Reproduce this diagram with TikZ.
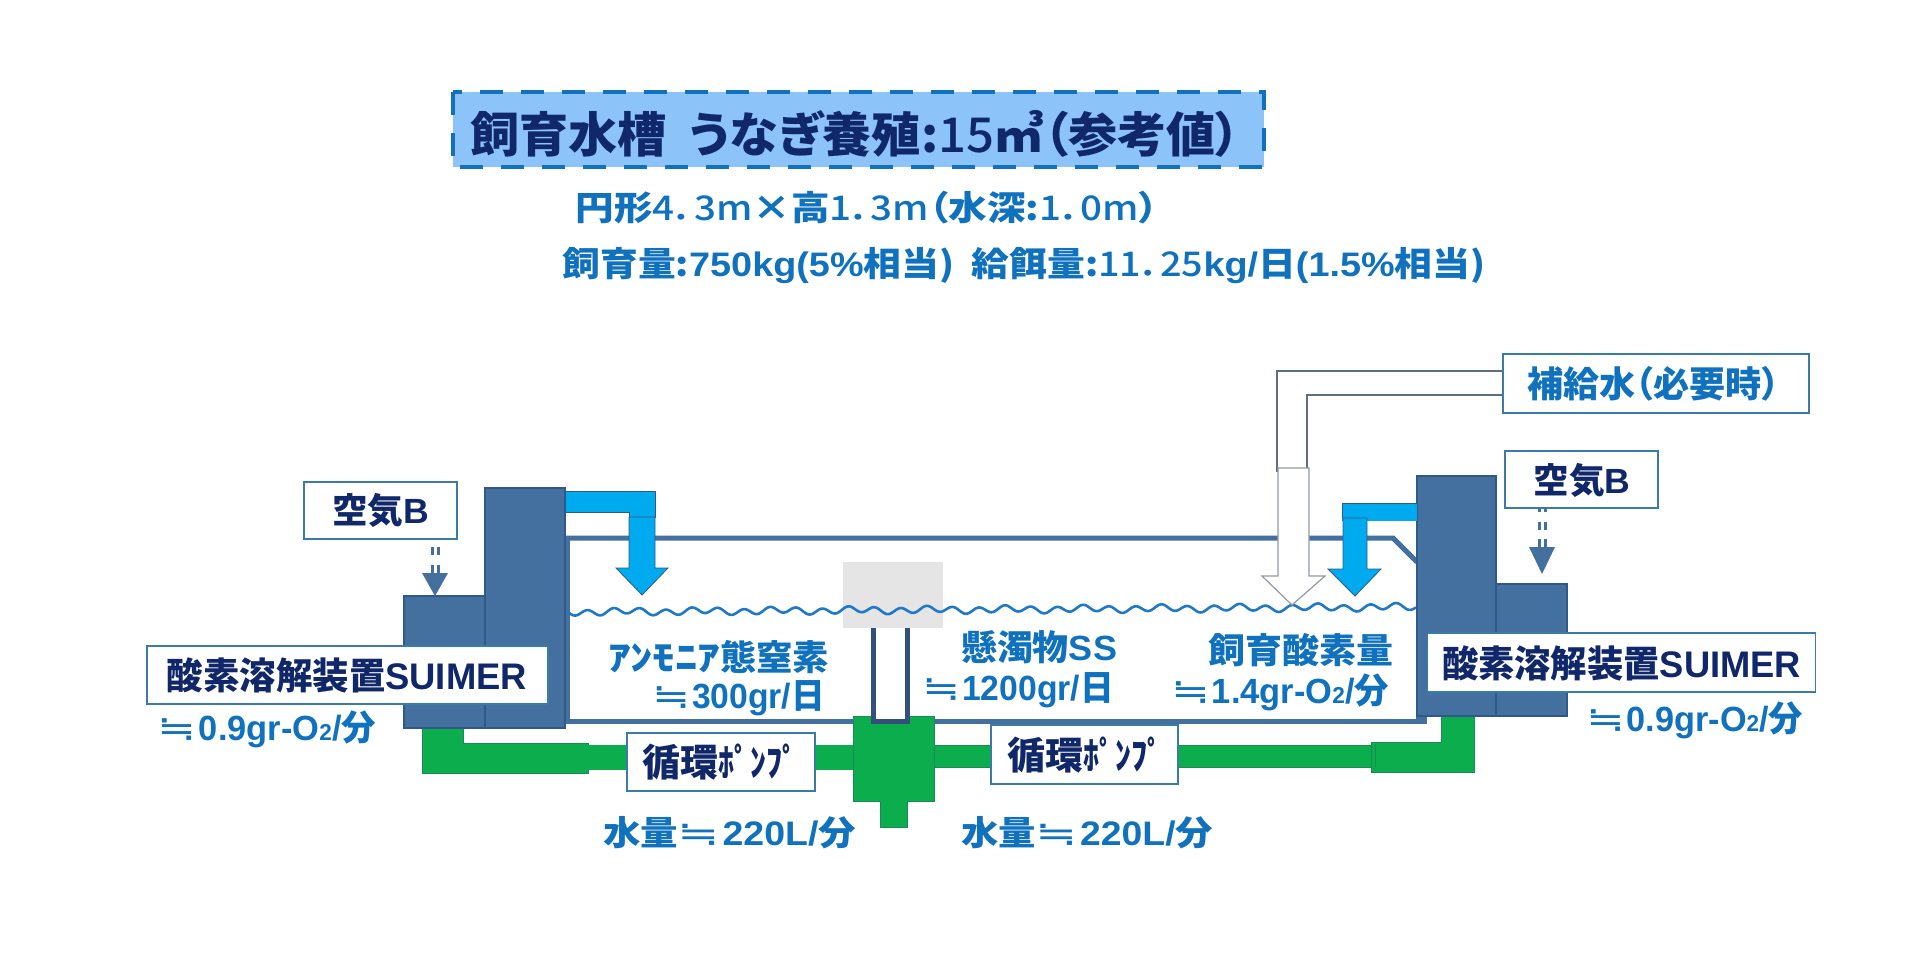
\documentclass[tikz,border=0pt]{standalone}
\usepackage{graphicx}
\usepackage{fontspec}
\setmainfont{Liberation Sans}
\newfontfamily\jp{Noto Sans CJK JP}[RawFeature={+palt}]
\newfontfamily\jpm{Noto Sans CJK JP Medium}[RawFeature={+palt}]
\newfontfamily\lat{Liberation Sans}
\newfontfamily\djv{DejaVu Sans}
\newcommand{\fw}[2]{\resizebox{#1pt}{\height}{#2}}
\newcommand{\oo}{O{\fontsize{23}{23}\selectfont 2}}
\newcommand{\nreq}{\scalebox{1.35}[1]{\djv\mdseries ≒}\hspace{2pt}}
\newcommand{\dg}[1]{{\jpm\mdseries #1}}
\definecolor{navy}{HTML}{10286A}
\definecolor{tblue}{HTML}{1072BE}
\definecolor{block}{HTML}{44709F}
\definecolor{blockedge}{HTML}{2F5A88}
\definecolor{cyanp}{HTML}{00AAEE}
\definecolor{greenp}{HTML}{0BAD4C}
\definecolor{greene}{HTML}{1A8A58}
\definecolor{boxe}{HTML}{3A7CA5}
\definecolor{drain}{HTML}{33507A}
\definecolor{greyp}{HTML}{5F6F7F}
\definecolor{wavec}{HTML}{1F78C8}
\definecolor{titlef}{HTML}{8CC4FA}
\tikzset{
  sz/.style={font=\jp\bfseries\fontsize{#1}{#1}\selectfont,inner sep=0pt,anchor=center},
  navyt/.style={sz=#1,text=navy},
  bluet/.style={sz=#1,text=tblue},
  blk/.style={fill=block,draw=blockedge,line width=1.5pt},
  pipec/.style={fill=cyanp,draw=blockedge,line width=0.8pt},
  pipeg/.style={fill=greenp,draw=greene,line width=1pt},
  wbox/.style={fill=white,draw=boxe,line width=1.5pt,inner sep=0pt},
  tankl/.style={draw=block,line width=5pt},
  airdash/.style={draw=block,line width=3pt},
}
\begin{document}
\begin{tikzpicture}[x=1pt,y=-1pt]
\useasboundingbox (0,0) rectangle (1920,960);
\fill[white] (0,0) rectangle (1920,960);

% title
\fill[titlef] (453,92) rectangle (1264,167);
\draw[draw=tblue,line width=4pt,dash pattern=on 23pt off 18pt] (453,92) rectangle (1264,167);
\node[navyt=48] (title) at (855,134) {\fw{770}{飼育水槽 \ うなぎ養殖:\dg{15}㎥（参考値）}};
\node[bluet=34] (sub1) at (867,208) {\fw{583}{円形\dg{4．3m}×高\dg{1．3m}（水深:\dg{1．0m}）}};
\node[bluet=34] (sub2) at (1024,266) {\fw{923}{飼育量:{\lat\bfseries 750kg(5\%}相当) \ 給餌量:\dg{11．25}{\lat\bfseries kg/}日{\lat\bfseries (1.5\%}相当)}};

% tank
\fill[black!10] (843,562) rectangle (943,628);
\draw[tankl] (565,538) -- (1393,538) -- (1417,562);
\draw[tankl] (567,536) -- (567,721) -- (1427,721);
\draw[wavec,line width=2.6pt] plot[domain=0:848,samples=500] (568+\x,{612-\x*5/848+3*sin(\x*13.8)+1.2*sin(\x*4.7)});

% inner drain
\fill[white] (876,628) rectangle (905,718);

% green piping
\draw[pipeg] (422,728) -- (463,728) -- (463,743) -- (588,743) -- (588,773) -- (422,773) -- cycle;
\fill[greenp] (588,745) rectangle (853,770);
\draw[pipeg] (853,716) -- (934,716) -- (934,801) -- (907,801) -- (907,827) -- (880,827) -- (880,801) -- (853,801) -- cycle;
\fill[pipeg] (934,745) rectangle (1375,767);
\draw[pipeg] (1441,716) -- (1474,716) -- (1474,772) -- (1371,772) -- (1371,742) -- (1441,742) -- cycle;
\draw[greene,line width=.8pt] (1375,744) -- (1375,767);

% drain on top of green
\fill[white] (876,716) rectangle (905,719);
\draw[drain,line width=5pt] (873.5,628) -- (873.5,721) -- (907.5,721) -- (907.5,628);

% left blocks
\draw[blk] (404,596) rectangle (485,728);
\draw[blk] (485,488) rectangle (565,728);
% left blue pipe + arrow
\draw[pipec] (565,491) -- (655,491) -- (655,517) -- (629,517) -- (629,512) -- (565,512) -- cycle;
\draw[pipec] (629,517) -- (655,517) -- (655,568) -- (668,568) -- (642,595) -- (616,568) -- (629,568) -- cycle;
% left air
\draw[airdash] (432,547) -- (432,555) (438,547) -- (438,555) (432,565) -- (432,574) (438,565) -- (438,574);
\fill[block] (422,573) -- (448,573) -- (435,596) -- cycle;

% right blocks
\fill[block] (1416,712) rectangle (1427,724);
\draw[blk] (1496,584) rectangle (1567,716);
\draw[blk] (1417,476) rectangle (1496,716);
% right blue pipe + arrow
\fill[cyanp] (1342,503) rectangle (1417,521);
\draw[blockedge,line width=.8pt] (1417,503) -- (1342,503) -- (1342,518);
\draw[pipec] (1343,518) -- (1367,518) -- (1367,569) -- (1381,569) -- (1355,596) -- (1328,569) -- (1343,569) -- cycle;
% right air
\draw[airdash] (1539.5,508) -- (1539.5,512) (1545,508) -- (1545,512) (1539.5,522) -- (1539.5,530) (1545,522) -- (1545,530) (1539.5,539) -- (1539.5,548) (1545,539) -- (1545,548);
\fill[block] (1529,547) -- (1555,547) -- (1542,574) -- cycle;

% make-up water
\fill[white] (1278,371) rectangle (1307,470);
\fill[white] (1278,371) rectangle (1503,395);
\draw[greyp,line width=1.2pt] (1503,371) -- (1277,371) -- (1277,472);
\draw[greyp,line width=1.2pt] (1503,395) -- (1307,395) -- (1307,468);
\draw[fill=white,draw=greyp!70,line width=1.2pt] (1278,468) -- (1309,468) -- (1309,576) -- (1325,576) -- (1292,605) -- (1262,576) -- (1278,576) -- cycle;

% boxes
\node[wbox,minimum width=153pt,minimum height=57pt] (airL) at (380.5,510.5) {};
\node[navyt=35] (airLt) at (380.5,510) {\fw{97}{空気{\lat\bfseries B}}};
\node[wbox,minimum width=401pt,minimum height=58pt] (suiL) at (347.5,675) {};
\node[navyt=37] (suiLt) at (347,675) {\fw{360}{酸素溶解装置{\lat\bfseries SUIMER}}};
\node[wbox,minimum width=153pt,minimum height=57pt] (airR) at (1581.5,479.5) {};
\node[navyt=35] (airRt) at (1582,480) {\fw{97}{空気{\lat\bfseries B}}};
\node[wbox,minimum width=388pt,minimum height=59pt] (suiR) at (1621.5,662.5) {};
\node[navyt=37] (suiRt) at (1621.5,663) {\fw{359}{酸素溶解装置{\lat\bfseries SUIMER}}};
\node[wbox,minimum width=306pt,minimum height=59pt] (makeup) at (1656,383.5) {};
\node[bluet=36] (makeupt) at (1653.5,384) {\fw{253}{補給水（必要時）}};
\node[wbox,minimum width=188pt,minimum height=58pt] (pumpL) at (721,762) {};
\node[navyt=38] (pumpLt) at (720,762) {\fw{76}{循環}\fw{80}{ﾎﾟﾝﾌﾟ}};
\node[wbox,minimum width=187pt,minimum height=59pt] (pumpR) at (1084.5,754.5) {};
\node[navyt=38] (pumpRt) at (1085,755) {\fw{76}{循環}\fw{80}{ﾎﾟﾝﾌﾟ}};

% labels
\node[bluet=35] (rateL) at (267,729) {\fw{218}{\nreq{\lat\bfseries 0.9gr-\oo/}分}};
\node[bluet=35] (rateR) at (1694.5,720) {\fw{217}{\nreq{\lat\bfseries 0.9gr-\oo/}分}};
\node[bluet=35] (ammo) at (718.5,657) {\fw{112}{ｱﾝﾓﾆｱ}\fw{109}{態窒素}};
\node[bluet=35] (ammov) at (738.5,698) {\fw{173}{\nreq{\lat\bfseries 300gr/}日}};
\node[bluet=35] (ss) at (1039,647) {\fw{156}{懸濁物{\lat\bfseries SS}}};
\node[bluet=35] (ssv) at (1018,690) {\fw{192}{\nreq{\lat\bfseries 1200gr/}日}};
\node[bluet=35] (oxy) at (1300.5,650) {\fw{185}{飼育酸素量}};
\node[bluet=35] (oxyv) at (1280,692) {\fw{218}{\nreq{\lat\bfseries 1.4gr-\oo/}分}};
\node[bluet=34] (flowL) at (729.5,833) {\fw{253}{水量\nreq{\lat\bfseries 220L/}分}};
\node[bluet=34] (flowR) at (1087,833) {\fw{252}{水量\nreq{\lat\bfseries 220L/}分}};
\end{tikzpicture}
\end{document}
